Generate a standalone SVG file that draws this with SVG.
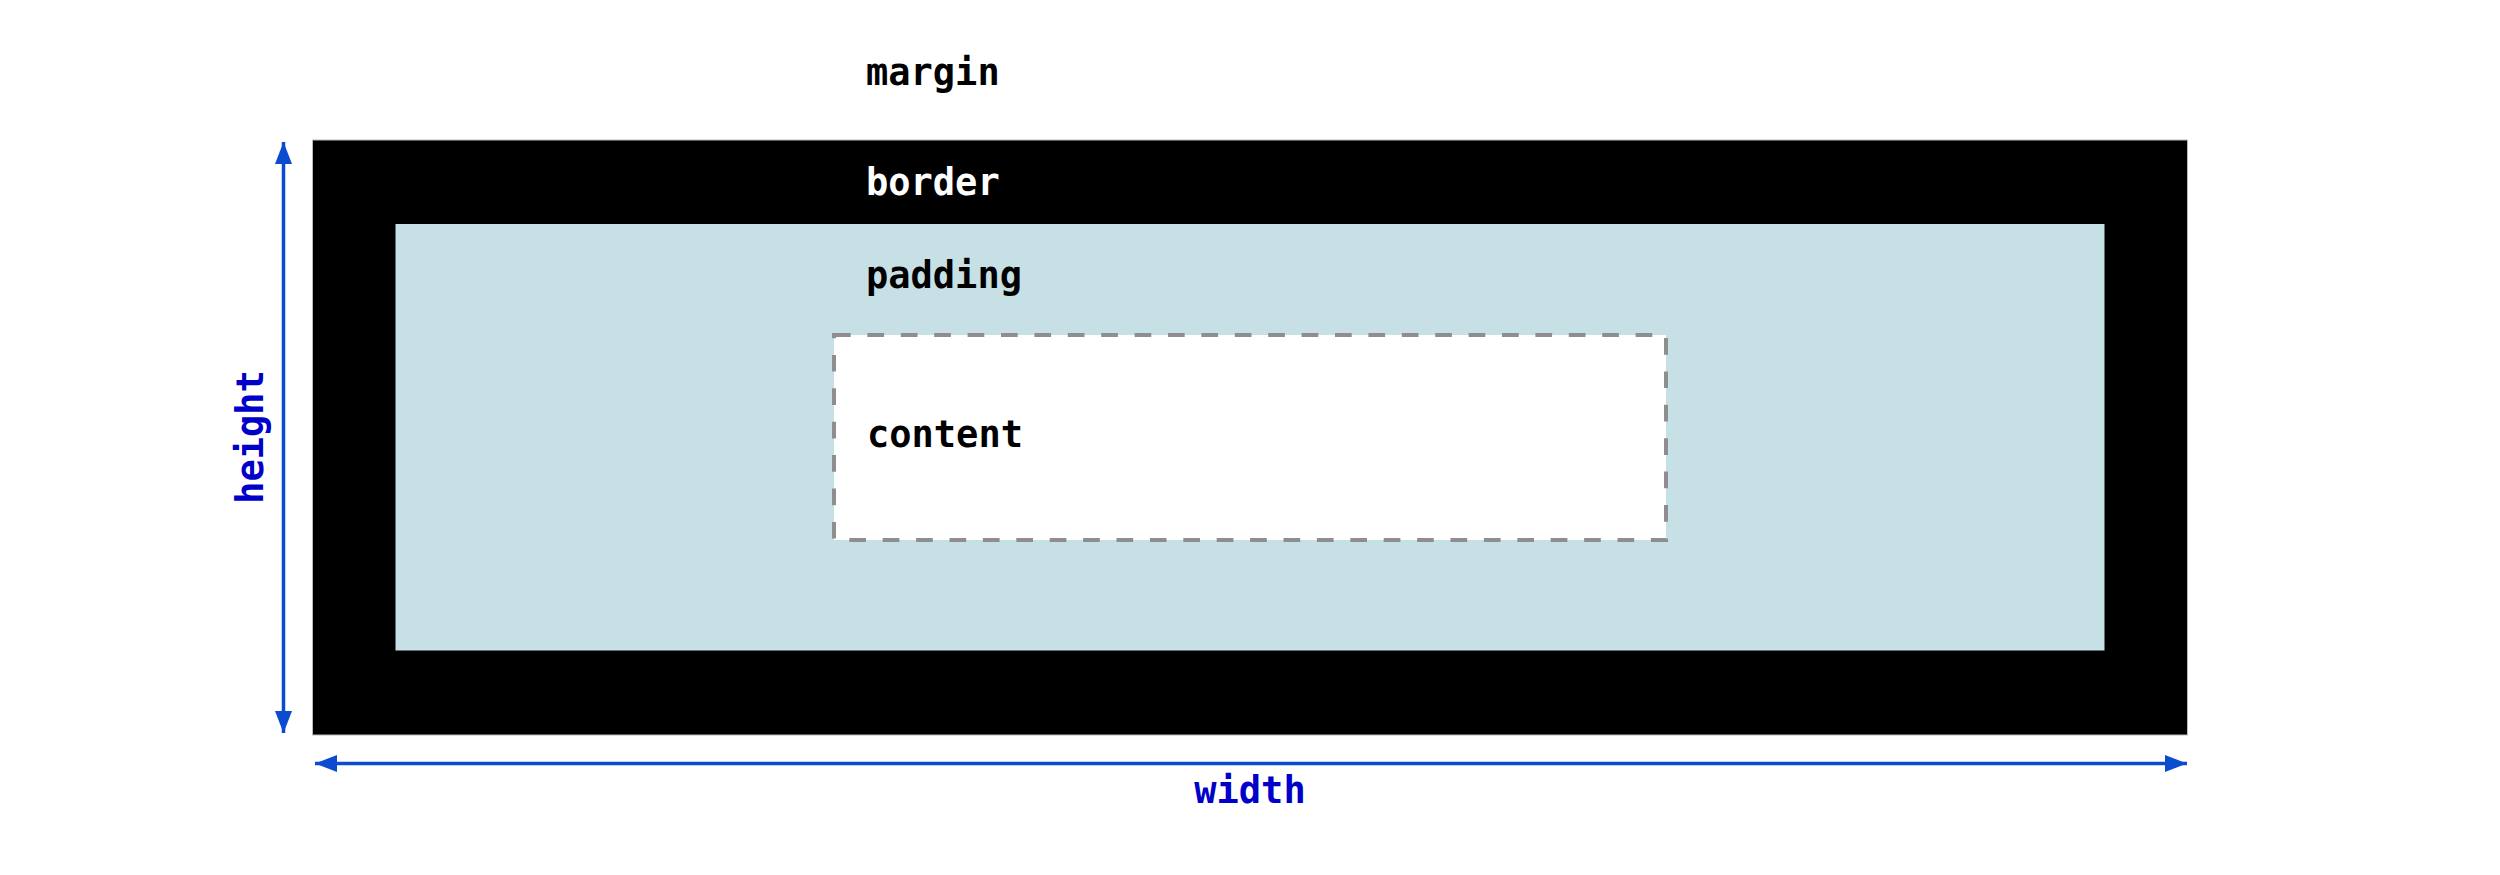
<svg xmlns="http://www.w3.org/2000/svg" width="2500" height="875" viewBox="0 0 2500 875">
<defs>
<style>
.lbl{font-family:"DejaVu Sans Mono","Liberation Mono",monospace;font-weight:bold;font-size:37px}
.dim{font-family:"DejaVu Sans Mono","Liberation Mono",monospace;font-weight:bold;font-size:37px;fill:#0000c8}
.arrow{stroke:#0a4bd0;stroke-width:3.5;fill:none}
</style>
<marker id="ah" viewBox="0 0 22 17" refX="22" refY="8.5" markerWidth="22" markerHeight="17" markerUnits="userSpaceOnUse" orient="auto-start-reverse">
<path d="M0,0 L22,8.5 L0,17 Z" fill="#0a4bd0"/>
</marker>
</defs>
<rect width="2500" height="875" fill="#ffffff"/>
<g id="margin">
<text class="lbl" x="866" y="85" fill="#000">margin</text>
</g>
<g id="border">
<rect x="312.5" y="140" width="1875" height="595" fill="#000" stroke="#bbbbbb" stroke-width="1"/>
<text class="lbl" x="866" y="195" fill="#fff">border</text>
</g>
<g id="padding">
<rect x="395.5" y="224" width="1709" height="426.5" fill="#c7e0e5"/>
<text class="lbl" x="866" y="288" fill="#000">padding</text>
</g>
<g id="content">
<rect x="834" y="335" width="832" height="205" fill="#fff" stroke="#8e8e8e" stroke-width="4" stroke-dasharray="16.7 16.7"/>
<text class="lbl" x="867" y="446.5" fill="#000">content</text>
</g>
<g id="connectors">
<line class="arrow" x1="283.5" y1="142" x2="283.5" y2="733" marker-start="url(#ah)" marker-end="url(#ah)"/>
<line class="arrow" x1="315" y1="763.5" x2="2187" y2="763.5" marker-start="url(#ah)" marker-end="url(#ah)"/>
</g>
<g id="height-label">
<text class="dim" x="0" y="0" text-anchor="middle" transform="translate(263,437) rotate(-90)">height</text>
</g>
<g id="width-label">
<text class="dim" x="1250" y="803" text-anchor="middle">width</text>
</g>
</svg>
